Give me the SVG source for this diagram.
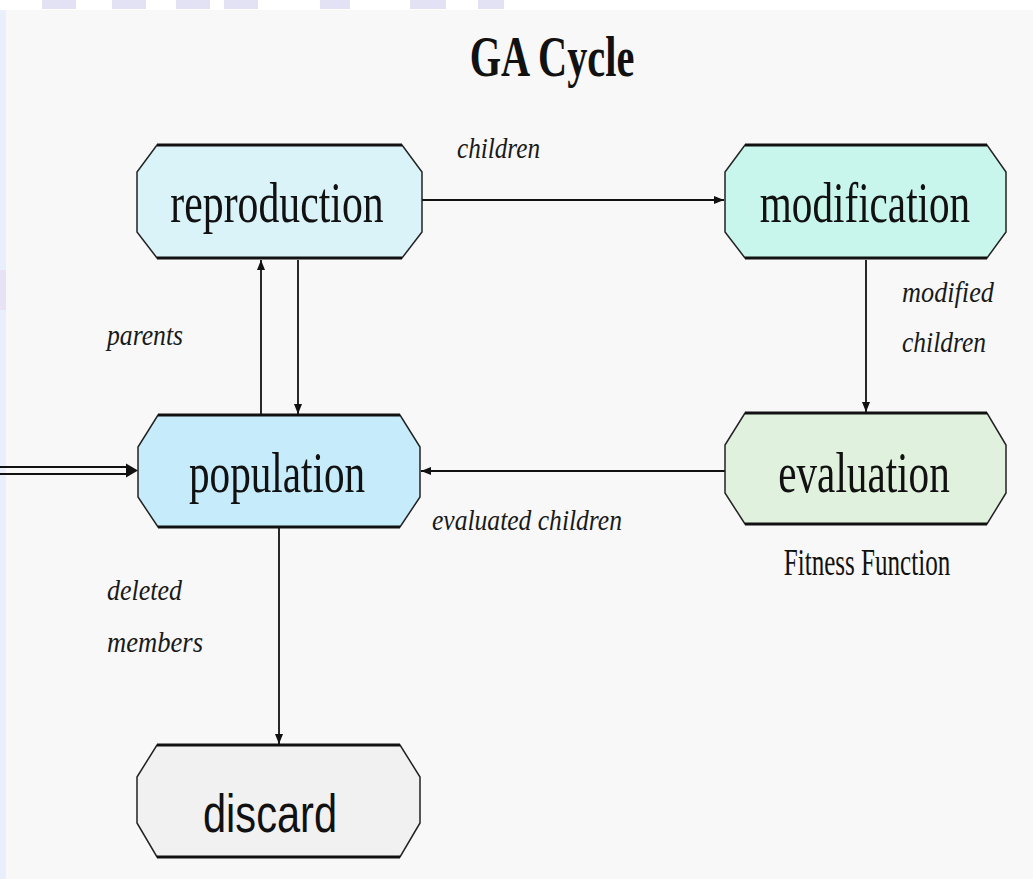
<svg xmlns="http://www.w3.org/2000/svg" width="1033" height="879" viewBox="0 0 1033 879">
  <style>
    .node { stroke: #222; stroke-width: 1.5; }
    .edge { stroke: #111; stroke-width: 3; }
    .link { stroke: #111; stroke-width: 1.8; fill: none; }
    .name { font-family: "Liberation Serif", "Times New Roman", serif; font-size: 58px; fill: #111; text-anchor: middle; }
    .sans { font-family: "Liberation Sans", Arial, sans-serif; font-size: 54px; fill: #111; text-anchor: middle; }
    .lbl { font-family: "Liberation Serif", "Times New Roman", serif; font-style: italic; font-size: 30px; fill: #1a1a1a; }
  </style>
  <defs>
    <marker id="arr" viewBox="0 0 10 10" refX="10" refY="5" markerWidth="11" markerHeight="10" markerUnits="userSpaceOnUse" orient="auto">
      <path d="M0,1 L10,5 L0,9 Z" fill="#111"/>
    </marker>
  </defs>

  <!-- page background -->
  <rect x="0" y="0" width="1033" height="879" fill="#ffffff"/>
  <rect x="6" y="10" width="1027" height="869" fill="#f8f8f8"/>
  <g fill="#e2e2f4">
    <rect x="42" y="0" width="34" height="9"/>
    <rect x="112" y="0" width="34" height="9"/>
    <rect x="176" y="0" width="34" height="9"/>
    <rect x="224" y="0" width="34" height="9"/>
    <rect x="320" y="0" width="30" height="9"/>
    <rect x="410" y="0" width="36" height="9"/>
    <rect x="478" y="0" width="26" height="9"/>
  </g>
  <rect x="0" y="10" width="6" height="869" fill="#eaf0fb"/>
  <rect x="0" y="270" width="6" height="40" fill="#e8e2f4"/>

  <!-- title -->
  <text transform="translate(552,76) scale(0.72,1)" x="0" y="0" font-family="Liberation Serif, 'Times New Roman', serif" font-weight="bold" font-size="56" fill="#111" text-anchor="middle">GA Cycle</text>

  <!-- connectors -->
  <g id="connectors">
    <line class="link" x1="422" y1="200" x2="724" y2="200" marker-end="url(#arr)"/>
    <line class="link" x1="866" y1="260" x2="866" y2="412" marker-end="url(#arr)"/>
    <line class="link" x1="725" y1="471" x2="421" y2="471" marker-end="url(#arr)"/>
    <line class="link" x1="261" y1="416" x2="261" y2="260" marker-end="url(#arr)"/>
    <line class="link" x1="298" y1="260" x2="298" y2="414" marker-end="url(#arr)"/>
    <line class="link" x1="279" y1="528" x2="279" y2="744" marker-end="url(#arr)"/>
    <!-- double-line entry arrow -->
    <line stroke="#111" stroke-width="1.8" x1="0" y1="467" x2="128" y2="467"/>
    <line stroke="#111" stroke-width="1.8" x1="0" y1="474" x2="128" y2="474"/>
    <path d="M126,463.5 L138,470.5 L126,477.5 Z" fill="#111"/>
  </g>

  <!-- connector labels -->
  <g id="labels">
    <text class="lbl" x="457" y="158" textLength="83" lengthAdjust="spacingAndGlyphs">children</text>
    <text class="lbl" x="902" y="302" textLength="92" lengthAdjust="spacingAndGlyphs">modified</text>
    <text class="lbl" x="902" y="352" textLength="84" lengthAdjust="spacingAndGlyphs">children</text>
    <text class="lbl" x="107" y="345" textLength="76" lengthAdjust="spacingAndGlyphs">parents</text>
    <text class="lbl" x="432" y="530" textLength="190" lengthAdjust="spacingAndGlyphs">evaluated children</text>
    <text class="lbl" x="107" y="600" textLength="75" lengthAdjust="spacingAndGlyphs">deleted</text>
    <text class="lbl" x="107" y="652" textLength="96" lengthAdjust="spacingAndGlyphs">members</text>
  </g>

  <!-- nodes -->
  <g id="reproduction">
    <polygon class="node" fill="#d9f3f9" points="157,145 402,145 422,172 422,232 402,258 157,258 137,232 137,172"/>
    <line class="edge" x1="157" y1="145" x2="402" y2="145"/>
    <line class="edge" x1="157" y1="258" x2="402" y2="258"/>
    <text class="name" transform="translate(277,222) scale(0.72,1)" x="0" y="0">reproduction</text>
  </g>

  <g id="modification">
    <polygon class="node" fill="#c9f6ec" points="745,145 987,145 1006,172 1006,232 987,258 745,258 725,232 725,172"/>
    <line class="edge" x1="745" y1="145" x2="987" y2="145"/>
    <line class="edge" x1="745" y1="258" x2="987" y2="258"/>
    <text class="name" transform="translate(865,222) scale(0.71,1)" x="0" y="0">modification</text>
  </g>

  <g id="population">
    <polygon class="node" fill="#c6ebfb" points="158,415 400,415 420,447 420,497 400,527 158,527 138,497 138,447"/>
    <line class="edge" x1="158" y1="415" x2="400" y2="415"/>
    <line class="edge" x1="158" y1="527" x2="400" y2="527"/>
    <text class="name" transform="translate(277,492) scale(0.71,1)" x="0" y="0">population</text>
  </g>

  <g id="evaluation">
    <polygon class="node" fill="#e0f1de" points="745,413 987,413 1006,445 1006,493 987,524 745,524 725,493 725,445"/>
    <line class="edge" x1="745" y1="413" x2="987" y2="413"/>
    <line class="edge" x1="745" y1="524" x2="987" y2="524"/>
    <text class="name" transform="translate(864,492) scale(0.71,1)" x="0" y="0">evaluation</text>
    <text transform="translate(867,575) scale(0.66,1)" x="0" y="0" font-family="Liberation Serif, 'Times New Roman', serif" font-size="38" fill="#111" text-anchor="middle">Fitness Function</text>
  </g>

  <g id="discard">
    <polygon class="node" fill="#f1f1f1" points="157,745 400,745 420,777 420,823 400,857 157,857 137,823 137,777"/>
    <line class="edge" x1="157" y1="745" x2="400" y2="745"/>
    <line class="edge" x1="157" y1="857" x2="400" y2="857"/>
    <text class="sans" transform="translate(270,832) scale(0.77,1)" x="0" y="0">discard</text>
  </g>
</svg>
